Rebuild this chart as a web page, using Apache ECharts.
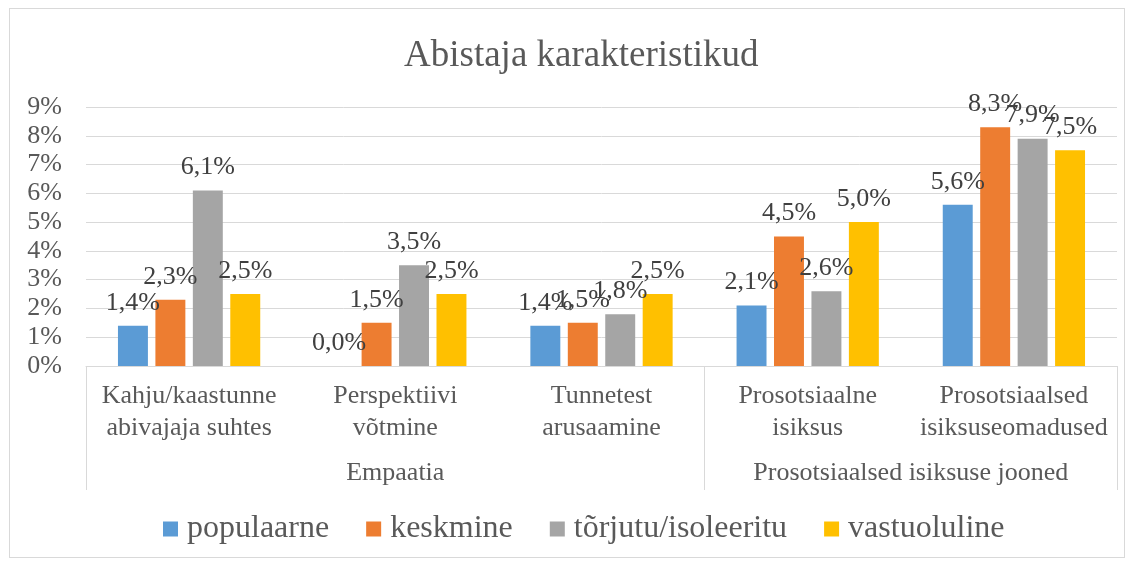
<!DOCTYPE html>
<html>
<head>
<meta charset="utf-8">
<script src="https://cdn.jsdelivr.net/npm/echarts@6/dist/echarts.min.js"></script>
<style>
  html, body { margin: 0; padding: 0; background: #fff; }
  #frame { position: absolute; left: 9px; top: 8px; width: 1114px; height: 548px; border: 1px solid #d9d9d9; }
  #chart { position: absolute; left: 0; top: 0; width: 1133px; height: 565px; }
</style>
</head>
<body>
<div id="frame"></div>
<div id="chart"></div>
<script>
// kategooriad
var categories = ['Kahju/kaastunne\nabivajaja suhtes', 'Perspektiivi\nvõtmine', 'Tunnetest\narusaamine', 'Prosotsiaalne\nisiksus', 'Prosotsiaalsed\nisiksuseomadused'];
var groups = ['Empaatia', 'Prosotsiaalsed isiksuse jooned'];
var groupCenters = [1.5, 4];
var groupBounds = [0, 3, 5];

var seriesNames = ['populaarne', 'keskmine', 'tõrjutu/isoleeritu', 'vastuoluline'];
var populaarne = [1.4, 0.0, 1.4, 2.1, 5.6];
var keskmine = [2.3, 1.5, 1.5, 4.5, 8.3];
var torjutu = [6.1, 3.5, 1.8, 2.6, 7.9];
var vastuoluline = [2.5, 2.5, 2.5, 5.0, 7.5];
var colors = ['#5B9BD5', '#ED7D31', '#A5A5A5', '#FFC000'];

var font = '"Liberation Serif", "Times New Roman", serif';
var chart = echarts.init(document.getElementById('chart'));

function bar(name, data, i) {
    return {
        name: name,
        type: 'bar',
        data: data,
        barGap: '25%',
        barCategoryGap: '31%',
        itemStyle: { color: colors[i] },
        label: {
            show: true,
            position: 'top',
            distance: 10,
            color: '#404040',
            fontFamily: font,
            fontSize: 26,
            formatter: function (p) { return p.value.toFixed(1).replace('.', ',') + '%'; }
        }
    };
}

var option = {
    backgroundColor: 'transparent',
    color: colors,
    title: {
        text: 'Abistaja karakteristikud',
        left: 399,
        top: 33,
        textStyle: { color: '#595959', fontFamily: font, fontSize: 37, fontWeight: 'normal' }
    },
    legend: {
        bottom: 15,
        left: 158,
        itemWidth: 15,
        itemHeight: 15,
        itemGap: 37,
        icon: 'rect',
        textStyle: { color: '#595959', fontFamily: font, fontSize: 32, padding: [0, 0, 0, 4] },
        data: seriesNames
    },
    grid: { left: 86, right: 16, top: 107, bottom: 199 },
    xAxis: [{
        type: 'category',
        data: categories,
        axisLine: { lineStyle: { color: '#d9d9d9' } },
        axisTick: { show: false },
        axisLabel: { color: '#595959', fontFamily: font, fontSize: 26, lineHeight: 32, margin: 14, interval: 0 }
    }, {
        type: 'value',
        position: 'bottom',
        min: 0,
        max: 5,
        axisLine: { show: false },
        splitLine: { show: false },
        axisTick: { show: true, customValues: groupBounds, length: 124, lineStyle: { color: '#d9d9d9' } },
        axisLabel: {
            customValues: groupCenters,
            margin: 94,
            color: '#595959', fontFamily: font, fontSize: 26,
            formatter: function (v) { return groups[groupCenters.indexOf(v)]; }
        }
    }],
    yAxis: {
        type: 'value',
        min: 0,
        max: 9,
        interval: 1,
        axisLine: { show: false },
        axisTick: { show: false },
        splitLine: { lineStyle: { color: '#d9d9d9' } },
        axisLabel: { color: '#595959', fontFamily: font, fontSize: 26, margin: 24, formatter: '{value}%' }
    },
    series: [
        bar(seriesNames[0], populaarne, 0),
        bar(seriesNames[1], keskmine, 1),
        bar(seriesNames[2], torjutu, 2),
        bar(seriesNames[3], vastuoluline, 3)
    ]
};
chart.setOption(option);
</script>
</body>
</html>
